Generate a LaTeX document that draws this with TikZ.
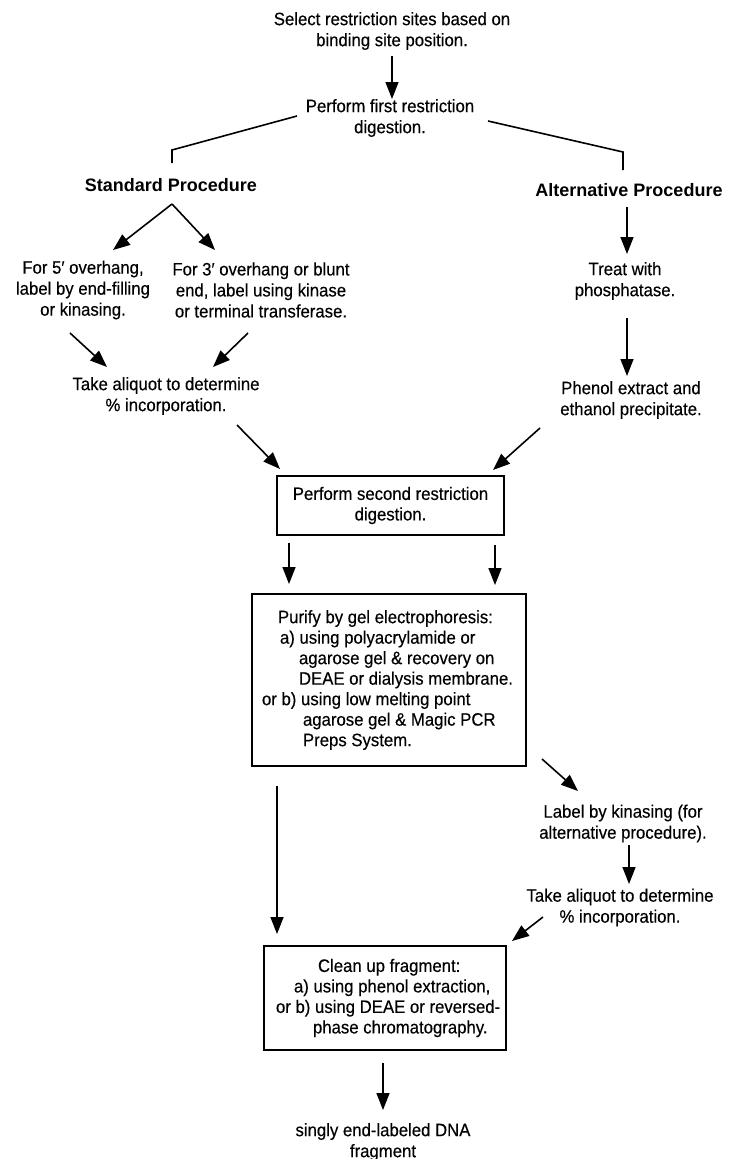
\documentclass[tikz,border=0pt]{standalone}
\usepackage{fontspec}
\setmainfont{Liberation Sans}[FakeStretch=0.93, FakeBold=0.35]
\newfontfamily\widesans{Liberation Sans}[FakeStretch=1.0]
\usetikzlibrary{arrows.meta}
\newcommand\fs{\fontsize{18}{21}\selectfont}
\newcommand\bfs{\fontsize{18}{20.5}\selectfont}
\begin{document}
\begin{tikzpicture}[x=1pt,y=-1pt,
  txt/.style={font=\fs, align=center, inner sep=0pt},
  hdr/.style={font=\fs\widesans\bfseries, inner sep=0pt},
  boxnode/.style={draw, line width=1.4pt, font=\bfs, inner sep=0pt},
  arr/.style={-{Triangle[length=17pt,width=13pt]}, line width=1.6pt},
  brk/.style={line width=1.6pt}]
\useasboundingbox (0,0) rectangle (731,1159);
\node[txt] (sel) at (392,31) {Select restriction sites based on\\binding site position.};
\node[txt] (pf) at (390,118) {Perform first restriction\\digestion.};
\node[hdr] (std) at (171,185) {Standard Procedure};
\node[hdr] (alt) at (629,190) {Alternative Procedure};
\node[txt] (f5) at (83,290) {For 5′ overhang,\\label by end-filling\\or kinasing.};
\node[txt] (f3) at (261,290) {For 3′ overhang or blunt\\end, label using kinase\\or terminal transferase.};
\node[txt] (tp) at (625,281) {Treat with\\phosphatase.};
\node[txt] (ta1) at (166,396) {Take aliquot to determine\\\% incorporation.};
\node[txt] (ph) at (631,400) {Phenol extract and\\ethanol precipitate.};
\node[boxnode, align=center, minimum width=227pt, minimum height=59pt] (b1) at (390.5,505.5)
 {Perform second restriction\\digestion.};
\node[boxnode, minimum width=274pt, minimum height=172pt] (b2) at (389,680)
 {\parbox{274pt}{\raggedright
  \hspace*{26pt}Purify by gel electrophoresis:\\
  \hspace*{28pt}a) using polyacrylamide or\\
  \hspace*{47pt}agarose gel \& recovery on\\
  \hspace*{47pt}DEAE or dialysis membrane.\\
  \hspace*{10pt}or b) using low melting point\\
  \hspace*{51pt}agarose gel \& Magic PCR\\
  \hspace*{51pt}Preps System.}};
\node[txt] (lk) at (623,823.5) {Label by kinasing (for\\alternative procedure).};
\node[txt] (ta2) at (620,907.5) {Take aliquot to determine\\\% incorporation.};
\node[boxnode, minimum width=242pt, minimum height=104pt] (b3) at (385,998)
 {\parbox{242pt}{\raggedright
  \hspace*{54pt}Clean up fragment:\\
  \hspace*{30pt}a) using phenol extraction,\\
  \hspace*{12pt}or b) using DEAE or reversed-\\
  \hspace*{49pt}phase chromatography.}};
\node[txt] (sg) at (383,1142) {singly end-labeled DNA\\fragment};
% connectors
\draw[arr] ([shift={(0,25)}]sel.center) -- ([shift={(2,-19)}]pf.center);
\draw[brk] ([shift={(-93,-2)}]pf.center) -- ([shift={(1,-35)}]std.center) -- ([shift={(1,-22)}]std.center);
\draw[brk] ([shift={(98,3)}]pf.center) -- ([shift={(-6,-38)}]alt.center) -- ([shift={(-6,-20)}]alt.center);
\draw[arr] ([shift={(1,19)}]std.center) -- ([shift={(30,-40)}]f5.center);
\draw[arr] ([shift={(1,19)}]std.center) -- ([shift={(-46,-40)}]f3.center);
\draw[arr] ([shift={(-2,17)}]alt.center) -- ([shift={(2,-27)}]tp.center);
\draw[arr] ([shift={(-13,43)}]f5.center) -- ([shift={(-59,-29)}]ta1.center);
\draw[arr] ([shift={(-13,43)}]f3.center) -- ([shift={(47,-29)}]ta1.center);
\draw[arr] ([shift={(2,37)}]tp.center) -- ([shift={(-4,-24)}]ph.center);
\draw[arr] ([shift={(71,29)}]ta1.center) -- ([shift={(-110.5,-36.5)}]b1.center);
\draw[arr] ([shift={(-91,28)}]ph.center) -- ([shift={(102.5,-35.5)}]b1.center);
\draw[arr] ([shift={(-101.5,37.5)}]b1.center) -- ([shift={(-100,-96)}]b2.center);
\draw[arr] ([shift={(104.5,39.5)}]b1.center) -- ([shift={(106,-95)}]b2.center);
\draw[arr] ([shift={(153,79)}]b2.center) -- ([shift={(-45,-32.5)}]lk.center);
\draw[arr] ([shift={(6,21.5)}]lk.center) -- ([shift={(9,-23.5)}]ta2.center);
\draw[arr] ([shift={(-77,9.5)}]ta2.center) -- ([shift={(127,-57)}]b3.center);
\draw[arr] ([shift={(-112,106)}]b2.center) -- ([shift={(-108,-64)}]b3.center);
\draw[arr] ([shift={(-2,65)}]b3.center) -- ([shift={(0,-32)}]sg.center);
\end{tikzpicture}
\end{document}
